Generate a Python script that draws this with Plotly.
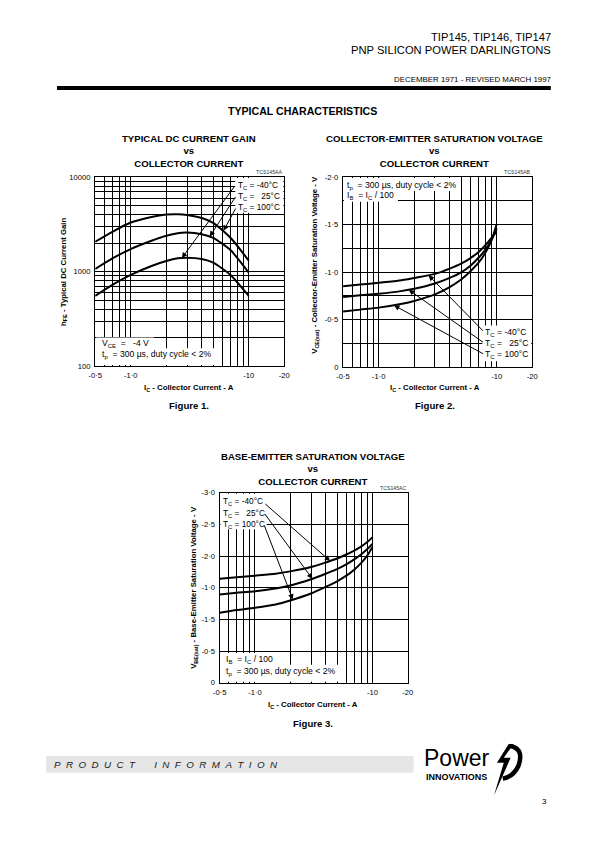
import math
import plotly.graph_objects as go

W, H = 595, 842
FONT = "Liberation Sans, Arial, sans-serif"

# ---------------- data ----------------
temps = ["-40°C", "25°C", "100°C"]

# Figure 1: hFE vs IC
ic_gain = [0.5, 0.7, 1.0, 1.5, 2.0, 2.5, 3.0, 4.0, 5.0, 7.0, 10.0]
hfe_m40 = [554, 724, 923, 1148, 1295, 1381, 1403, 1359, 1245, 923, 554]
hfe_25 = [1067, 1380, 1733, 2120, 2393, 2553, 2594, 2490, 2280, 1690, 975]
hfe_100 = [2070, 2637, 3306, 3794, 4018, 4050, 3981, 3700, 3280, 2280, 1306]

# Figure 2: VCE(sat) vs IC
ic_sat = [0.5, 0.7, 1.0, 1.5, 2.0, 3.0, 4.0, 5.0, 6.0, 7.0, 8.0, 9.0, 10.0]
vce_m40 = [-0.852, -0.870, -0.887, -0.911, -0.939, -0.981, -1.037, -1.089, -1.148, -1.210, -1.280, -1.357, -1.430]
vce_25 = [-0.737, -0.755, -0.772, -0.797, -0.824, -0.880, -0.939, -0.998, -1.068, -1.148, -1.235, -1.332, -1.461]
vce_100 = [-0.584, -0.605, -0.626, -0.661, -0.696, -0.765, -0.842, -0.922, -1.009, -1.096, -1.200, -1.329, -1.503]

# Figure 3: VBE(sat) vs IC
vbe_m40 = [-1.643, -1.664, -1.690, -1.721, -1.758, -1.826, -1.899, -1.961, -2.024, -2.087, -2.149, -2.217, -2.295]
vbe_25 = [-1.393, -1.419, -1.445, -1.487, -1.534, -1.633, -1.721, -1.794, -1.867, -1.946, -2.024, -2.107, -2.191]
vbe_100 = [-1.106, -1.148, -1.184, -1.236, -1.299, -1.408, -1.513, -1.601, -1.690, -1.784, -1.888, -2.003, -2.139]

# tick / grid values and labels
x_grid_vals = [0.5, 0.6, 0.7, 0.8, 0.9, 1, 2, 3, 4, 5, 6, 7, 8, 9, 10, 20]
x_tick_text = ["-0·5", "", "", "", "", "-1·0", "", "", "", "", "", "", "", "", "-10", "-20"]
hfe_grid_vals = [100, 200, 300, 400, 500, 600, 700, 800, 900,
                 1000, 2000, 3000, 4000, 5000, 6000, 7000, 8000, 9000, 10000]
hfe_tick_text = ["100"] + [""] * 8 + ["1000"] + [""] * 8 + ["10000"]
vce_grid_vals = [0, -0.25, -0.5, -0.75, -1.0, -1.25, -1.5, -1.75, -2.0]
vce_tick_text = ["0", "", "-0·5", "", "-1·0", "", "-1·5", "", "-2·0"]
vbe_grid_vals = [0, -0.5, -1.0, -1.5, -2.0, -2.5, -3.0]
vbe_tick_text = ["0", "-0·5", "-1·5", "-1·0", "-2·0", "-2·5", "-3·0"]

# arrow targets (IC, value on curve) and tails, per temperature
gain_arrow_heads = [(2.71, 1393), (4.67, 2350), (6.1, 2700)]
gain_arrow_tails = [(7.75, 8300), (7.87, 6410), (7.87, 4830)]
vce_arrow_heads = [(2.65, -0.966), (1.8, -0.813), (1.35, -0.65)]
vce_arrow_tails = [(7.9, -0.365), (7.9, -0.25), (7.9, -0.132)]
vbe_arrow_heads = [(4.37, -1.92), (3.08, -1.64), (2.1, -1.31)]
vbe_arrow_tails = [(1.19, -2.843), (1.19, -2.686), (1.19, -2.504)]


def px(x):
    return x / W


def py(y):
    return 1 - y / H


fig = go.Figure()
curve = dict(color="black", width=2, shape="spline", smoothing=0.6)

for ys in (hfe_m40, hfe_25, hfe_100):
    fig.add_trace(go.Scatter(x=ic_gain, y=ys, mode="lines", line=curve,
                             xaxis="x", yaxis="y", hoverinfo="skip"))
for ys in (vce_m40, vce_25, vce_100):
    fig.add_trace(go.Scatter(x=ic_sat, y=ys, mode="lines", line=curve,
                             xaxis="x2", yaxis="y2", hoverinfo="skip"))
for ys in (vbe_m40, vbe_25, vbe_100):
    fig.add_trace(go.Scatter(x=ic_sat, y=ys, mode="lines", line=curve,
                             xaxis="x3", yaxis="y3", hoverinfo="skip"))

ax_common = dict(showgrid=True, gridcolor="black", gridwidth=1,
                 showline=True, linecolor="black", linewidth=1.4, mirror=True,
                 ticks="", zeroline=False, tickmode="array", fixedrange=True,
                 tickfont=dict(family=FONT, size=7.6, color="black"),
                 ticklabelstandoff=2)

xlog_range = [math.log10(0.5), math.log10(20)]

fig.update_layout(
    width=W, height=H, margin=dict(l=0, r=0, t=0, b=0),
    paper_bgcolor="white", plot_bgcolor="white", showlegend=False,
    xaxis=dict(domain=[px(90), px(283)], type="log", range=xlog_range,
               tickvals=x_grid_vals, ticktext=x_tick_text, anchor="y", **ax_common),
    yaxis=dict(domain=[py(366), py(175)], type="log", range=[2, 4],
               tickvals=hfe_grid_vals, ticktext=hfe_tick_text, anchor="x", **ax_common),
    xaxis2=dict(domain=[px(343), px(536)], type="log", range=xlog_range,
                tickvals=x_grid_vals, ticktext=x_tick_text, anchor="y2", **ax_common),
    yaxis2=dict(domain=[py(367), py(175)], range=[0, -2],
                tickvals=vce_grid_vals, ticktext=vce_tick_text, anchor="x2", **ax_common),
    xaxis3=dict(domain=[px(217), px(409)], type="log", range=xlog_range,
                tickvals=x_grid_vals, ticktext=x_tick_text, anchor="y3", **ax_common),
    yaxis3=dict(domain=[py(686), py(494)], range=[0, -3],
                tickvals=vbe_grid_vals, ticktext=vbe_tick_text, anchor="x3", **ax_common),
)

shapes = []


def wbox(x0, y0, x1, y1):
    shapes.append(dict(type="rect", xref="paper", yref="paper",
                       x0=px(x0), x1=px(x1), y0=py(y1), y1=py(y0),
                       fillcolor="white", line=dict(width=0), layer="above"))


# white label boxes
wbox(233, 176, 282, 211)
wbox(91, 337, 150, 349)
wbox(91, 348, 215, 365)
wbox(344, 176, 461, 189)
wbox(344, 188, 399, 200)
wbox(485, 325, 535, 361)
wbox(218, 495, 265, 531)
wbox(218, 656, 274, 669)
wbox(218, 668, 345, 685)

# header bar
shapes.append(dict(type="rect", xref="paper", yref="paper", x0=px(51), x1=px(555),
                   y0=py(87), y1=py(83), fillcolor="black", line=dict(width=0)))
# footer grey band
shapes.append(dict(type="rect", xref="paper", yref="paper", x0=px(40), x1=px(415),
                   y0=py(777), y1=py(760), fillcolor="#e6e6e6", line=dict(width=0)))


# logo graphics
def pth(points):
    s = ""
    for i, (x, y) in enumerate(points):
        s += ("M" if i == 0 else "L") + f"{px(x):.5f},{py(y):.5f} "
    return s + "Z"


shapes.append(dict(type="path", xref="paper", yref="paper",
                   path=pth([(512, 748), (500, 767), (507, 767), (497, 800),
                             (514, 762), (507, 762), (517, 748)]),
                   fillcolor="black", line=dict(width=0)))
shapes.append(dict(type="path", xref="paper", yref="paper",
                   path=f"M{px(514):.5f},{py(750):.5f} Q{px(528):.5f},{py(753):.5f} {px(522):.5f},{py(770):.5f} "
                        f"Q{px(517):.5f},{py(781):.5f} {px(506):.5f},{py(783):.5f}",
                   line=dict(color="black", width=4.5)))

fig.update_layout(shapes=shapes)

ann = []


def txt(x, y, text, size=8, xanchor="center", yanchor="middle", color="black",
        textangle=0, align="left"):
    ann.append(dict(x=px(x), y=py(y), xref="paper", yref="paper", text=text,
                    showarrow=False, xanchor=xanchor, yanchor=yanchor,
                    textangle=textangle, align=align, borderpad=0,
                    font=dict(family=FONT, size=size, color=color)))


NB = "\u00a0"

# header
txt(556, 33, "TIP145, TIP146, TIP147", size=11.2, xanchor="right")
txt(556, 46, "PNP SILICON POWER DARLINGTONS", size=11.2, xanchor="right")
txt(556, 76, "DECEMBER 1971 - REVISED MARCH 1997", size=7.9, xanchor="right")
txt(302, 108, "<b>TYPICAL CHARACTERISTICS</b>", size=10.6)

# chart titles
txt(186, 149, "<b>TYPICAL DC CURRENT GAIN<br>vs<br>COLLECTOR CURRENT</b>", size=9.6, align="center")
txt(436, 149, "<b>COLLECTOR-EMITTER SATURATION VOLTAGE<br>vs<br>COLLECTOR CURRENT</b>", size=9.6, align="center")
txt(312, 470, "<b>BASE-EMITTER SATURATION VOLTAGE<br>vs<br>COLLECTOR CURRENT</b>", size=9.6, align="center")

# codes
txt(282, 170, "TCS145AA", size=5.2, xanchor="right", color="#333")
txt(535, 170, "TCS145AB", size=5.2, xanchor="right", color="#333")
txt(408, 489, "TCS145AC", size=5.2, xanchor="right", color="#333")

# axis titles
xt = "<b>I<sub>C</sub> - Collector Current - A</b>"
txt(186, 388, xt, size=7.8)
txt(437, 388, xt, size=7.8)
txt(312, 709, xt, size=7.8)
txt(58, 271, "<b>h<sub>FE</sub> - Typical DC Current Gain</b>", size=7.8, textangle=-90)
txt(315, 264, "<b>V<sub>CE(sat)</sub> - Collector-Emitter Saturation Voltage - V</b>", size=7.8, textangle=-90)
txt(191, 590, "<b>V<sub>BE(sat)</sub> - Base-Emitter Saturation Voltage - V</b>", size=7.8, textangle=-90)

# figure captions
txt(186, 406, "<b>Figure 1.</b>", size=9.6)
txt(437, 406, "<b>Figure 2.</b>", size=9.6)
txt(312, 727, "<b>Figure 3.</b>", size=9.6)

# temperature labels
tlabels = [f"T<sub>C</sub> = -40°C", f"T<sub>C</sub> ={NB}{NB}{NB}25°C", f"T<sub>C</sub> = 100°C"]
for i, t in enumerate(tlabels):
    txt(235, 183 + 11.5 * i, t, size=8.3, xanchor="left")
    txt(487, 332 + 11 * i, t, size=8.6, xanchor="left")
    txt(219, 503 + 11.5 * i, t, size=8.3, xanchor="left")

cond_t = f"t<sub>p</sub>{NB}{NB}= 300 µs, duty cycle < 2%"
cond_i = f"I<sub>B</sub>{NB}{NB}= I<sub>C</sub> / 100"
txt(96, 343, f"V<sub>CE</sub>{NB}{NB}={NB}{NB}{NB}-4 V", size=8.6, xanchor="left")
txt(96, 354.5, cond_t, size=8.6, xanchor="left")
txt(346, 183, cond_t, size=8.6, xanchor="left")
txt(346, 194, cond_i, size=8.6, xanchor="left")
txt(222, 663, cond_i, size=8.6, xanchor="left")
txt(222, 675, cond_t, size=8.6, xanchor="left")

# footer
sp = NB * 2
word1 = sp.join("PRODUCT")
word2 = sp.join("INFORMATION")
txt(47, 769, f"<i>{word1}{NB * 7}{word2}</i>", size=9.8, xanchor="left", color="#222")
txt(425, 762, "Power", size=23, xanchor="left")
txt(427, 781, "<b>INNOVATIONS</b>", size=9, xanchor="left")
txt(552, 806, "3", size=8, xanchor="right")


# arrows
def arrow(xr, yr, head, tail, logy):
    hx, hy = head
    tx, ty = tail
    ann.append(dict(xref=xr, yref=yr, axref=xr, ayref=yr,
                    x=math.log10(hx), y=math.log10(hy) if logy else hy,
                    ax=math.log10(tx), ay=math.log10(ty) if logy else ty,
                    text="", showarrow=True, arrowhead=2, arrowsize=1.1,
                    arrowwidth=1, arrowcolor="black", standoff=0))


for h, t in zip(gain_arrow_heads, gain_arrow_tails):
    arrow("x", "y", h, t, True)
for h, t in zip(vce_arrow_heads, vce_arrow_tails):
    arrow("x2", "y2", h, t, False)
for h, t in zip(vbe_arrow_heads, vbe_arrow_tails):
    arrow("x3", "y3", h, t, False)

fig.update_layout(annotations=ann)
fig.write_html("out.html", config={"displayModeBar": False},
               post_script="document.body.style.margin='0px';document.body.style.padding='0px';")
